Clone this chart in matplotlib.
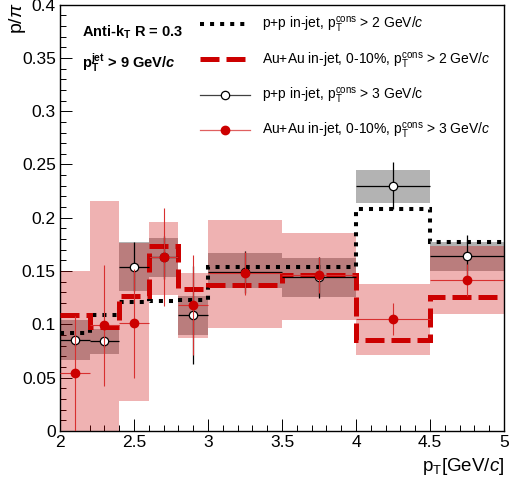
import matplotlib
matplotlib.use("Agg")
import matplotlib.pyplot as plt
import numpy as np
from matplotlib.lines import Line2D
from matplotlib.ticker import MultipleLocator, FuncFormatter

plt.rcParams['font.family'] = ['Liberation Sans', 'DejaVu Sans']
plt.rcParams['mathtext.fontset'] = 'custom'
plt.rcParams['mathtext.rm'] = 'Liberation Sans'
plt.rcParams['mathtext.it'] = 'Liberation Sans:italic'
plt.rcParams['mathtext.bf'] = 'Liberation Sans:bold'
plt.rcParams['mathtext.bfit'] = 'Liberation Sans:italic:bold'

# bins en pT
edges = np.array([2.0, 2.2, 2.4, 2.6, 2.8, 3.0, 3.5, 4.0, 4.5, 5.0])

# p+p y Au+Au, pT cons > 2 (histogramas en escalera)
pp_cons2 = [0.092, 0.109, 0.121, 0.122, 0.123, 0.154, 0.154, 0.208, 0.177]
auau_cons2 = [0.109, 0.098, 0.127, 0.174, 0.133, 0.137, 0.146, 0.085, 0.126]

# p+p, pT cons > 3
pp_cons3 = [0.085, 0.084, 0.154, 0.163, 0.109, 0.149, 0.144, 0.230, 0.164]
pp_cons3_stat = [0.005, 0.005, 0.023, 0.020, 0.046, 0.020, 0.019, 0.022, 0.020]
pp_cons3_sys_lo = [0.0665, 0.072, 0.131, 0.1445, 0.090, 0.134, 0.126, 0.214, 0.150]
pp_cons3_sys_hi = [0.104, 0.096, 0.177, 0.181, 0.127, 0.167, 0.162, 0.245, 0.177]

# Au+Au 0-10%, pT cons > 3
auau_cons3 = [0.054, 0.099, 0.101, 0.163, 0.118, 0.148, 0.146, 0.105, 0.142]
auau_cons3_stat = [0.054, 0.057, 0.051, 0.046, 0.047, 0.020, 0.017, 0.015, 0.015]
auau_cons3_sys_lo = [0.0, 0.0, 0.028, 0.128, 0.087, 0.097, 0.104, 0.071, 0.110]
auau_cons3_sys_hi = [0.150, 0.216, 0.176, 0.196, 0.148, 0.198, 0.186, 0.138, 0.174]

rojo = '#cc0000'
centros = 0.5 * (edges[1:] + edges[:-1])
anchos = np.diff(edges)

fig = plt.figure(figsize=(5.09, 4.80), dpi=100)
ax = fig.add_axes([60 / 509, 1 - 431 / 480, 444 / 509, 426.4 / 480])

# cajas de sistematicos
ax.bar(centros, np.array(pp_cons3_sys_hi) - np.array(pp_cons3_sys_lo), bottom=pp_cons3_sys_lo,
       width=anchos, color='#b3b3b3', linewidth=0, zorder=1)
ax.bar(centros, np.array(auau_cons3_sys_hi) - np.array(auau_cons3_sys_lo), bottom=auau_cons3_sys_lo,
       width=anchos, color=rojo, alpha=0.3, linewidth=0, zorder=2)

# escaleras pT cons > 2
ax.stairs(pp_cons2, edges, baseline=None, color='black', lw=2.9,
          linestyle=(0, (1, 1.5)), zorder=3)
ax.stairs(auau_cons2, edges, baseline=None, color=rojo, lw=3.6,
          linestyle=(0, (3.8, 1.4)), zorder=3)

# puntos con errores estadisticos
ax.errorbar(centros, pp_cons3, xerr=anchos / 2, yerr=pp_cons3_stat, fmt='o', color='black',
            mfc='white', mec='black', ms=6, mew=0.9, elinewidth=0.9, capsize=0, zorder=4)
ax.errorbar(centros, auau_cons3, xerr=anchos / 2, yerr=auau_cons3_stat, fmt='o', color=rojo,
            ecolor='#d83030', mfc=rojo, mec=rojo, ms=6, elinewidth=0.8, capsize=0, zorder=5)

ax.set_xlim(2, 5)
ax.set_ylim(0, 0.4)

ax.xaxis.set_major_locator(MultipleLocator(0.5))
ax.xaxis.set_minor_locator(MultipleLocator(0.1))
ax.yaxis.set_major_locator(MultipleLocator(0.05))
ax.yaxis.set_minor_locator(MultipleLocator(0.01))
fmt = FuncFormatter(lambda v, p: f"{v:g}")
ax.xaxis.set_major_formatter(fmt)
ax.yaxis.set_major_formatter(fmt)
ax.tick_params(which='both', direction='in', top=False, right=False, labelsize=12.5, width=0.7)
ax.tick_params(which='major', length=8.6, pad=3)
ax.tick_params(which='minor', length=4.3)
for s in ax.spines.values():
    s.set_linewidth(1.0)

ax.set_xlabel(r"p$_\mathrm{T}$[GeV/$c$]", fontsize=13.5, loc='right')
ax.set_ylabel(r"p/$\pi$", fontsize=14, loc='top')
ax.yaxis.set_label_coords(-0.072, 1.006)

# textos
ax.text(0.05, 0.935, r"Anti-k$_\mathbf{T}$ R = 0.3", transform=ax.transAxes,
        fontsize=10.5, fontweight='bold', va='center')
ax.text(0.05, 0.862, r"p$_\mathbf{T}^\mathbf{jet}$ > 9 GeV/$\mathbfit{c}$", transform=ax.transAxes,
        fontsize=10.5, fontweight='bold', va='center')

# leyenda
h1 = Line2D([], [], color='black', lw=2.9, linestyle=(0, (1, 1.5)))
h2 = Line2D([], [], color=rojo, lw=3.6, linestyle=(0, (3.8, 1.4)))
h3 = Line2D([], [], color='#404040', lw=0.9, marker='o', mfc='white', mec='black', ms=6, mew=0.9)
h4 = Line2D([], [], color='#e06060', lw=0.9, marker='o', mfc=rojo, mec=rojo, ms=6)
ax.legend([h1, h2, h3, h4],
          [r"p+p in-jet, p$_\mathrm{T}^\mathrm{cons}$ > 2 GeV/$c$",
           r"Au+Au in-jet, 0-10%, p$_\mathrm{T}^\mathrm{cons}$ > 2 GeV/$c$",
           r"p+p in-jet, p$_\mathrm{T}^\mathrm{cons}$ > 3 GeV/c",
           r"Au+Au in-jet, 0-10%, p$_\mathrm{T}^\mathrm{cons}$ > 3 GeV/$c$"],
          loc='upper left', bbox_to_anchor=(0.315, 0.975), frameon=False, fontsize=10,
          handlelength=3.6, handletextpad=0.85, labelspacing=1.1, borderpad=0, borderaxespad=0)

fig.savefig("out.png", dpi=100)
